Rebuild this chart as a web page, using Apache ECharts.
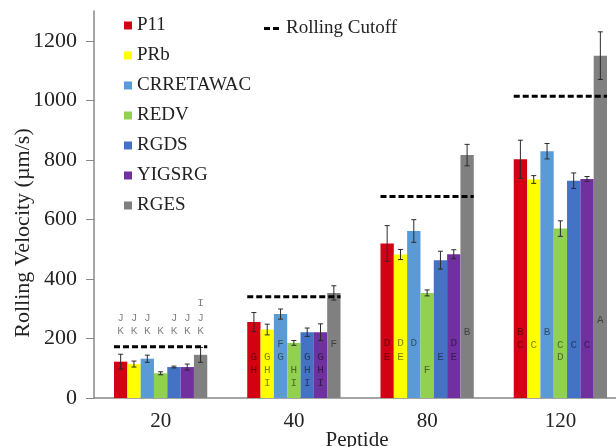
<!DOCTYPE html>
<html><head><meta charset="utf-8">
<script src="https://cdn.jsdelivr.net/npm/echarts@6/dist/echarts.min.js"></script>
<style>html,body{margin:0;padding:0;background:#fff}#c{width:616px;height:447px}</style>
</head><body><div id="c"></div>
<script>
const categories = ['20', '40', '80', '120'];
const seriesNames = ['P11', 'PRb', 'CRRETAWAC', 'REDV', 'RGDS', 'YIGSRG', 'RGES'];
const colors = ['#d40014', '#ffff00', '#5b9bd5', '#92d050', '#4472c4', '#7030a0', '#808080'];
const P11 = [122, 255, 519, 802];
const PRb = [114, 230, 482, 734];
const CRRETAWAC = [132, 282, 561, 829];
const REDV = [83, 185, 353, 569];
const RGDS = [104, 221, 463, 730];
const YIGSRG = [104, 221, 483, 736];
const RGES = [145, 353, 816, 1150];
const errP11 = [25, 32, 60, 64];
const errPRb = [10, 18, 17, 13];
const errCRRETAWAC = [12, 17, 38, 26];
const errREDV = [5, 8, 10, 26];
const errRGDS = [3, 14, 30, 26];
const errYIGSRG = [10, 28, 15, 8];
const errRGES = [25, 24, 36, 80];
const cutoff = [172, 340, 677, 1014];
// significance letters per series, one string per category
const lettersP11 = ['JK', 'GH', 'DE', 'BC'];
const lettersPRb = ['JK', 'GHI', 'DE', 'C'];
const lettersCRRETAWAC = ['JK', 'FG', 'D', 'B'];
const lettersREDV = ['K', 'HI', 'F', 'CD'];
const lettersRGDS = ['JK', 'GHI', 'E', 'C'];
const lettersYIGSRG = ['JK', 'GHI', 'DE', 'C'];
const lettersRGES = ['IJK', 'F', 'B', 'A'];
// letter heights (value units) per category
const letterY20 = {I: 319, J: 270, K: 226};
const letterY40 = {F: 180, G: 139, H: 94, I: 51};
const letterY80 = {B: 221, D: 185, E: 136, F: 94};
const letterY120 = {A: 262, B: 221, C: 178, D: 138};
const yTicks = [0, 200, 400, 600, 800, 1000, 1200];
const yTitle = 'Rolling Velocity (µm/s)';
const xTitle = 'Peptide';

const values = [P11, PRb, CRRETAWAC, REDV, RGDS, YIGSRG, RGES];
const errs = [errP11, errPRb, errCRRETAWAC, errREDV, errRGDS, errYIGSRG, errRGES];
const letters = [lettersP11, lettersPRb, lettersCRRETAWAC, lettersREDV, lettersRGDS, lettersYIGSRG, lettersRGES];
const letterYs = [letterY20, letterY40, letterY80, letterY120];
const N = seriesNames.length;
const GROUP = 0.7;

function barCenter(api, cat, si) {
  const c = api.coord([cat, 0]);
  const band = api.size([1, 0])[0];
  const bw = band * GROUP / N;
  return {x: c[0] + (si - (N - 1) / 2) * bw, bw: bw, band: band, y0: c[1]};
}

const errData = [];
values.forEach((arr, si) => arr.forEach((v, ci) => errData.push([ci, si, v, errs[si][ci]])));
const letterData = [];
const letterText = [];
letters.forEach((arr, si) => arr.forEach((s, ci) => {
  s.split('').forEach(ch => { letterData.push([ci, si, letterYs[ci][ch]]); letterText.push(ch); });
}));
const cutData = cutoff.map((v, i) => [i, v]);

const serif = '"Liberation Serif", "Times New Roman", serif';
const series = seriesNames.map((n, i) => ({
  name: n, type: 'bar', data: values[i], barGap: '0%', barCategoryGap: '30%',
  itemStyle: {color: colors[i]}, z: 2
}));
series.push({
  type: 'custom', name: 'err', data: errData, z: 5, silent: true,
  renderItem: function (params, api) {
    const b = barCenter(api, api.value(0), api.value(1));
    const v = api.value(2), e = api.value(3);
    const top = api.coord([api.value(0), v + e])[1];
    const bot = api.coord([api.value(0), v - e])[1];
    const cap = 2.5;
    const st = {stroke: '#2a2a2a', lineWidth: 1};
    return {type: 'group', children: [
      {type: 'line', shape: {x1: b.x, y1: top, x2: b.x, y2: bot}, style: st},
      {type: 'line', shape: {x1: b.x - cap, y1: top, x2: b.x + cap, y2: top}, style: st},
      {type: 'line', shape: {x1: b.x - cap, y1: bot, x2: b.x + cap, y2: bot}, style: st}
    ]};
  }
});
series.push({
  type: 'custom', name: 'letters', data: letterData, z: 6, silent: true,
  renderItem: function (params, api) {
    const b = barCenter(api, api.value(0), api.value(1));
    const y = api.coord([api.value(0), api.value(2)])[1];
    return {type: 'text', style: {x: b.x, y: y, text: letterText[params.dataIndex], align: 'center', verticalAlign: 'middle',
      font: '11px "Liberation Mono", monospace', fill: 'rgba(0,0,0,0.5)'}};
  }
});
series.push({
  type: 'custom', name: 'Rolling Cutoff', data: cutData, z: 7, silent: true,
  itemStyle: {color: '#000'},
  renderItem: function (params, api) {
    const c = api.coord([api.value(0), api.value(1)]);
    const half = api.size([1, 0])[0] * GROUP / 2;
    return {type: 'line', shape: {x1: c[0] - half, y1: c[1], x2: c[0] + half, y2: c[1]},
      style: {stroke: '#000', lineWidth: 3, lineDash: [6, 3]}};
  }
});

const chart = echarts.init(document.getElementById('c'), null, {renderer: 'canvas'});
chart.setOption({
  animation: false,
  backgroundColor: '#fff',
  grid: {left: 94, top: 11, width: 533, height: 387, containLabel: false, outerBoundsMode: 'none'},
  graphic: [{
    type: 'text', x: 23, y: 233, rotation: Math.PI / 2,
    style: {text: yTitle, font: '22px "Liberation Serif", serif', fill: '#222', align: 'center', verticalAlign: 'middle'}
  }, {
    type: 'text', x: 357, y: 440,
    style: {text: xTitle, font: '21px "Liberation Serif", serif', fill: '#222', align: 'center', verticalAlign: 'middle'}
  }],
  legend: [{
    data: seriesNames, orient: 'vertical', left: 119, top: 11, itemWidth: 8, itemHeight: 8, itemGap: 11,
    icon: 'rect', textStyle: {fontFamily: serif, fontSize: 19, color: '#222'}
  }, {
    data: [{name: 'Rolling Cutoff', icon: 'path://M0,0H6V3H0Z M9,0H15V3H9Z'}], left: 259, top: 14,
    itemWidth: 15, itemHeight: 3, textStyle: {fontFamily: serif, fontSize: 19, color: '#222', padding: [0, 0, 0, 2]}
  }],
  xAxis: {
    type: 'category', data: categories,
    axisLine: {lineStyle: {color: '#888', width: 1.5}}, axisTick: {show: false},
    axisLabel: {fontFamily: serif, fontSize: 21, color: '#222', margin: 13}
  },
  yAxis: {
    type: 'value', min: 0, max: 1300, interval: 100,
    axisLine: {show: true, lineStyle: {color: '#888', width: 1.5}},
    axisTick: {show: true, length: 8, customValues: yTicks, lineStyle: {color: '#888'}},
    axisLabel: {fontFamily: serif, fontSize: 22, color: '#222', margin: 17, customValues: yTicks,
      formatter: function (v) { return String(v); }},
    splitLine: {show: false}
  },
  series: series
});
</script></body></html>
